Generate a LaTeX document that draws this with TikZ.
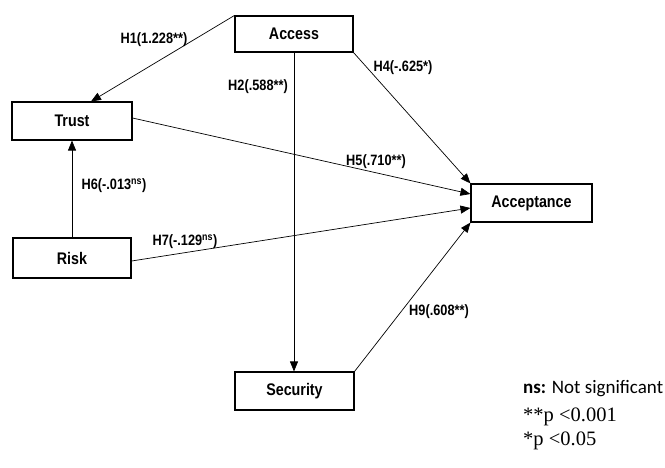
\documentclass[tikz,border=0pt]{standalone}
\usepackage{fontspec}
\setmainfont[FakeStretch=0.85]{Liberation Sans}
\newfontfamily\legendsans{Carlito}
\newfontfamily\legendserif{Liberation Serif}
\usetikzlibrary{arrows.meta}

\tikzset{
  construct/.style={draw=black, line width=1.1pt, inner sep=0pt,
    font=\fontsize{16.8}{18}\selectfont\bfseries},
  path/.style={draw=black, line width=0.7pt,
    -{Triangle[length=10pt,width=8pt]}},
  coef/.style={inner sep=0pt, font=\fontsize{15}{17}\selectfont\bfseries},
  legend/.style={inner sep=0pt, anchor=west}
}

\begin{document}
\begin{tikzpicture}[x=1pt, y=-1pt]
  \useasboundingbox (0,0) rectangle (665,467);

  % constructs
  \node[construct, minimum width=118pt, minimum height=36pt] (access) at (294,34) {Access};
  \node[construct, minimum width=120pt, minimum height=38pt] (trust) at (72,121) {Trust};
  \node[construct, minimum width=121pt, minimum height=38pt] (accept) at (531.5,203) {Acceptance};
  \node[construct, minimum width=118pt, minimum height=40pt] (risk) at (72,258) {Risk};
  \node[construct, minimum width=119pt, minimum height=38pt] (security) at (294.5,391) {Security};

  % structural paths
  \draw[path] (access.north west) -- ([xshift=19pt]trust.north);
  \draw[path] (access.south) -- (access.south |- security.north);
  \draw[path] (access.south east) -- (accept.north west);
  \draw[path] ([yshift=3pt]trust.east) -- ([yshift=9pt]accept.west);
  \draw[path] ([yshift=-3pt]risk.east) -- ([yshift=-5pt]accept.west);
  \draw[path] (risk.north) -- (trust.south);
  \draw[path] (security.north east) -- (accept.south west);

  % path coefficients
  \node[coef] (h1) at (154,40) {H1(1.228**)};
  \node[coef] (h2) at (258,87) {H2(.588**)};
  \node[coef] (h4) at (403,68) {H4(-.625*)};
  \node[coef] (h5) at (376,162) {H5(.710**)};
  \node[coef] (h6) at (114,186) {H6(-.013\textsuperscript{ns})};
  \node[coef] (h7) at (185,242) {H7(-.129\textsuperscript{ns})};
  \node[coef] (h9) at (439,312) {H9(.608**)};

  % significance legend
  \node[legend] (l1) at (523,389) {\legendsans\fontsize{19}{21}\selectfont\textbf{ns:} Not significant};
  \node[legend] (l2) at (523,417) {\legendserif\fontsize{20.5}{22}\selectfont **p <0.001};
  \node[legend] (l3) at (523,441) {\legendserif\fontsize{20.5}{22}\selectfont *p <0.05};
\end{tikzpicture}
\end{document}
